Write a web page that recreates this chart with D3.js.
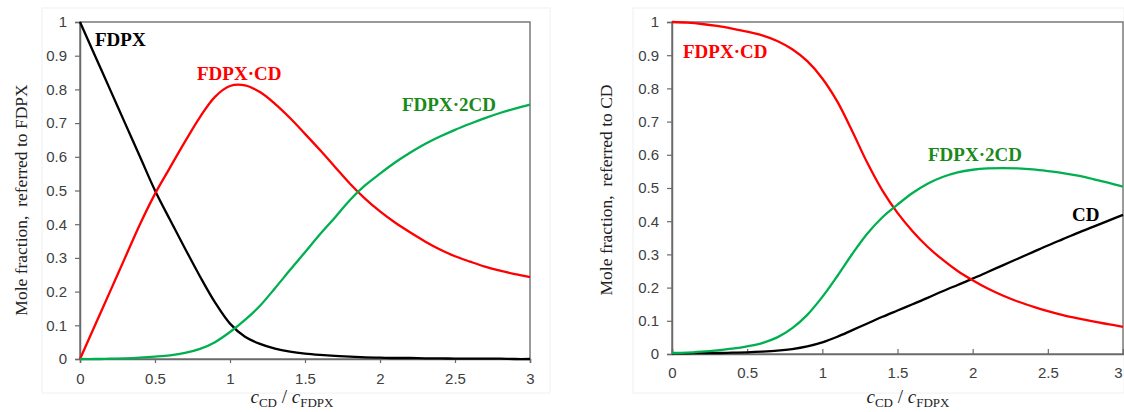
<!DOCTYPE html>
<html><head><meta charset="utf-8">
<script src="https://cdn.jsdelivr.net/npm/d3@7"></script>
<style>body{margin:0;background:#fff;}svg{display:block;}</style>
</head><body>
<svg id="c" width="1124" height="412"></svg>
<script>
// x grid (c_CD / c_FDPX)
const xs = [0,0.1,0.2,0.3,0.4,0.5,0.6,0.7,0.8,0.9,1.0,1.1,1.2,1.3,1.4,1.5,1.6,1.7,1.8,1.9,2.0,2.1,2.2,2.3,2.4,2.5,2.6,2.7,2.8,2.9,3.0];
// Left panel: referred to FDPX
const leftFDPX   = [1,0.9,0.8,0.7,0.6,0.5,0.413,0.328,0.245,0.168,0.105,0.066,0.045,0.031,0.022,0.016,0.012,0.009,0.007,0.005,0.004,0.003,0.003,0.002,0.002,0.001,0.001,0.001,0.001,0,0];
const leftFDPXCD = [0,0.1,0.2,0.3,0.4,0.49,0.568,0.645,0.718,0.778,0.81,0.812,0.792,0.757,0.715,0.668,0.62,0.57,0.52,0.476,0.438,0.405,0.376,0.349,0.325,0.305,0.289,0.274,0.262,0.252,0.243];
const leftFDPX2CD= [0,0,0.001,0.002,0.004,0.007,0.011,0.018,0.03,0.05,0.08,0.116,0.158,0.21,0.264,0.317,0.37,0.42,0.472,0.515,0.55,0.583,0.612,0.638,0.66,0.68,0.698,0.715,0.73,0.743,0.755];
// Right panel: referred to CD
const rightFDPXCD = [1,0.998,0.994,0.988,0.98,0.971,0.96,0.943,0.918,0.882,0.83,0.76,0.67,0.575,0.492,0.425,0.37,0.323,0.284,0.25,0.222,0.197,0.176,0.158,0.143,0.129,0.117,0.107,0.098,0.09,0.082];
const rightFDPX2CD= [0.003,0.004,0.007,0.011,0.016,0.023,0.033,0.05,0.078,0.118,0.172,0.235,0.302,0.363,0.412,0.45,0.485,0.513,0.533,0.547,0.555,0.559,0.56,0.559,0.556,0.551,0.545,0.537,0.527,0.516,0.504];
const rightCD     = [0.002,0.002,0.003,0.003,0.004,0.005,0.007,0.01,0.015,0.023,0.035,0.052,0.072,0.092,0.112,0.131,0.15,0.169,0.189,0.208,0.227,0.247,0.267,0.287,0.307,0.327,0.346,0.365,0.383,0.401,0.419];
const xTicks = [0,0.5,1,1.5,2,2.5,3];
const yTicks = [0,0.1,0.2,0.3,0.4,0.5,0.6,0.7,0.8,0.9,1];

const svg = d3.select("#c");
const serif = "'Liberation Serif','Times New Roman',serif";
const sans = "'Liberation Sans',Arial,sans-serif";
const colBlack="#000000", colRed="#ff0000", colGreen="#00b050", colGreenTxt="#1a8a1a";

function panel(o){
  const g = svg.append("g");
  g.append("rect").attr("x",o.bg[0]).attr("y",o.bg[1]).attr("width",o.bg[2]).attr("height",o.bg[3])
    .attr("fill","#fff").attr("stroke","#f0f0f0");
  const x = d3.scaleLinear().domain([0,3]).range([o.x0,o.x1]);
  const y = d3.scaleLinear().domain([0,1]).range([o.y0,o.y1]);
  // frame
  g.append("rect").attr("x",o.x0).attr("y",o.y1).attr("width",o.x1-o.x0).attr("height",o.y0-o.y1)
    .attr("fill","none").attr("stroke","#7a7a7a").attr("stroke-width",1.5);
  // axes
  const ya = g.append("g").attr("transform",`translate(${o.x0},0)`)
    .call(d3.axisLeft(y).tickValues(yTicks).tickFormat(d3.format("")).tickSize(5).tickPadding(8));
  const xa = g.append("g").attr("transform",`translate(0,${o.y0})`)
    .call(d3.axisBottom(x).tickValues(xTicks).tickFormat(d3.format("")).tickSize(o.xIn?-5:4).tickPadding(o.xIn?13:10));
  [ya,xa].forEach(a=>{
    a.select(".domain").attr("stroke","#6a6a6a").attr("stroke-width",1.5);
    a.selectAll(".tick line").attr("stroke","#6a6a6a").attr("stroke-width",1.2);
    a.selectAll(".tick text").attr("fill","#404040").style("font-family",sans).style("font-size","15px");
  });
  if (o.xIn) {
    // last tick label sits at the window's right edge: keep it inside
    xa.selectAll(".tick text").filter(d=>d===3).attr("text-anchor","end").attr("dx","-1");
  }
  // lines
  const line = d3.line().x((d,i)=>x(xs[i])).y(d=>y(d)).curve(d3.curveCatmullRom.alpha(0.5));
  o.series.forEach(s=>{
    g.append("path").datum(s.v).attr("d",line).attr("fill","none")
      .attr("stroke",s.c).attr("stroke-width",2.3);
  });
  // labels
  o.labels.forEach(l=>{
    g.append("text").attr("x",l.x).attr("y",l.y).text(l.t).attr("fill",l.c)
      .style("font-family",serif).style("font-weight","bold").style("font-size","19px");
  });
  // y title
  g.append("text").attr("transform",`translate(${o.ytx},${o.yty}) rotate(-90)`)
    .attr("text-anchor","middle").style("font-family",serif).style("font-size","17.5px")
    .attr("fill","#222").style("white-space","pre").text(o.ytitle);
  // x title
  const xt = g.append("text").attr("x",o.xtx).attr("y",403).attr("text-anchor","middle")
    .style("font-family",serif).style("font-size","19px").attr("fill","#222");
  xt.append("tspan").style("font-style","italic").text("c");
  xt.append("tspan").attr("dy",3.5).style("font-size","13px").text("CD");
  xt.append("tspan").attr("dy",-3.5).text(" / ");
  xt.append("tspan").style("font-style","italic").text("c");
  xt.append("tspan").attr("dy",3.5).style("font-size","13px").text("FDPX");
}

panel({x0:80,x1:530,y0:359,y1:22,xIn:false,bg:[42,8,508,385],
  ytx:27,yty:200,ytitle:"Mole fraction,  referred to FDPX",xtx:292,
  series:[{v:leftFDPX,c:colBlack},{v:leftFDPXCD,c:colRed},{v:leftFDPX2CD,c:colGreen}],
  labels:[{x:95,y:46,t:"FDPX",c:"#000"},{x:197,y:80,t:"FDPX·CD",c:colRed},{x:402,y:111,t:"FDPX·2CD",c:colGreenTxt}]});
panel({x0:672,x1:1123,y0:354,y1:22,xIn:true,bg:[633,8,491,385],
  ytx:612,yty:190,ytitle:"Mole fraction,  referred to CD",xtx:908,
  series:[{v:rightCD,c:colBlack},{v:rightFDPXCD,c:colRed},{v:rightFDPX2CD,c:colGreen}],
  labels:[{x:683,y:58,t:"FDPX·CD",c:colRed},{x:928,y:161,t:"FDPX·2CD",c:colGreenTxt},{x:1072,y:221,t:"CD",c:"#000"}]});
</script>
</body></html>
